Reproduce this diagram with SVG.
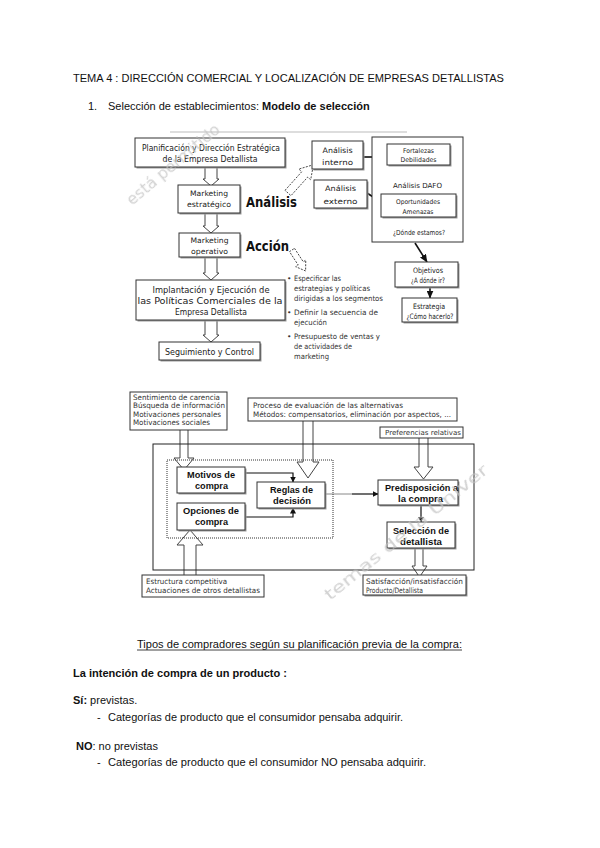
<svg xmlns="http://www.w3.org/2000/svg" width="600" height="848" viewBox="0 0 600 848">
<style>
.bx{fill:#fff;stroke:#333;stroke-width:1}
.sh{fill:#9a9a9a}
.ha{fill:#fff;stroke:#444;stroke-width:1}
.hd{fill:#fff;stroke:#444;stroke-width:0.9;stroke-dasharray:2,1.3}
.ln{stroke:#111;stroke-width:1.6;fill:none}
.lt{stroke:#111;stroke-width:1.2;fill:none}
.v{font-family:"DejaVu Sans",Verdana,sans-serif;fill:#222;text-anchor:middle}
.vs{font-family:"DejaVu Sans",Verdana,sans-serif;fill:#333}
.vb{font-family:"DejaVu Sans",Verdana,sans-serif;font-weight:bold;fill:#111}
.a{font-family:"Liberation Sans",Arial,sans-serif;fill:#111}
.ab{font-family:"Liberation Sans",Arial,sans-serif;font-weight:bold;fill:#111}
.ac{font-family:"Liberation Sans",Arial,sans-serif;font-weight:bold;fill:#111;text-anchor:middle}
.wm{font-family:"DejaVu Sans",Verdana,sans-serif;fill:#c4c4c4;font-size:16px}
</style>
<defs>
<marker id="ar" markerUnits="userSpaceOnUse" markerWidth="8" markerHeight="7" refX="7.5" refY="3.5" orient="auto"><path d="M0,0 L8,3.5 L0,7 Z" fill="#111"/></marker>
<marker id="as" markerUnits="userSpaceOnUse" markerWidth="6" markerHeight="6" refX="5.5" refY="3" orient="auto"><path d="M0,0 L6,3 L0,6 Z" fill="#111"/></marker>
</defs>

<g id="header">
<text class="a" x="73" y="82" font-size="11" textLength="431" lengthAdjust="spacingAndGlyphs">TEMA 4 : DIRECCIÓN COMERCIAL Y LOCALIZACIÓN DE EMPRESAS DETALLISTAS</text>
<text class="a" x="88" y="110" font-size="11">1.</text>
<text class="a" x="108" y="110" font-size="11">Selección de establecimientos: <tspan class="ab">Modelo de selección</tspan></text>
</g>

<line x1="170" y1="132" x2="407" y2="132" stroke="#bbb" stroke-width="1"/>

<g id="connectors">
<path class="ha" d="M205,167 V179 H203 L211,186 L219,179 H217 V167"/>
<path class="ha" d="M205,213 V226 H203 L211,233 L219,226 H217 V213"/>
<path class="ha" d="M205,257 V273 H203 L211,280 L219,273 H217 V257"/>
<path class="ha" d="M205,320 V335 H203 L211,342 L219,335 H217 V320"/>
<path class="hd" transform="translate(288,193) rotate(-48)" d="M0,-4 H25 V-8 L38,0 L25,8 V4 H0 Z"/>
<path class="hd" transform="translate(292,250) rotate(57)" d="M0,-3 H16 V-6 L25,0 L16,6 V3 H0 Z"/>
<line class="ln" x1="363" y1="157" x2="387" y2="157" marker-end="url(#ar)"/>
<line class="ln" x1="367" y1="193" x2="387" y2="206" marker-end="url(#ar)"/>
<line class="ln" x1="415" y1="243" x2="427" y2="262" marker-end="url(#ar)"/>
<line class="ln" x1="430" y1="287" x2="430" y2="298" marker-end="url(#ar)"/>

<path class="ha" d="M180,430 V458 H174 L184,470 L194,458 H188 V430"/>
<path class="ha" d="M303,421 V462 H297 L308,478 L319,462 H313 V421"/>
<path class="ha" d="M419,437 V467 H414 L423.5,479 L433,467 H428 V437"/>
<path class="ha" d="M184,575 V545 H177 L190,530 L203,545 H196 V575"/>
<path class="ha" d="M415,548 V566 H412 L419.5,577 L427,566 H423 V548"/>
<path class="lt" d="M245,473 H293 V482" marker-end="url(#as)"/>
<path class="lt" d="M245,517 H293 V508" marker-end="url(#as)"/>
<line x1="325" y1="494" x2="352" y2="494" stroke="#888" stroke-width="1"/>
<line class="lt" x1="352" y1="494" x2="378" y2="494" marker-end="url(#as)"/>
<line class="lt" x1="421" y1="505" x2="421" y2="522" marker-end="url(#as)"/>
</g>

<g id="n-planificacion">
<rect class="sh" x="136.5" y="139.5" width="150" height="29"/>
<rect class="bx" x="135" y="138" width="150" height="29"/>
<text class="v" x="211" y="151" font-size="8.5" textLength="138" lengthAdjust="spacingAndGlyphs">Planificación y Dirección Estratégica</text>
<text class="v" x="210" y="162" font-size="8.5" textLength="95" lengthAdjust="spacingAndGlyphs">de la Empresa Detallista</text>
</g>
<g id="n-mkt-estrategico">
<rect class="sh" x="179.5" y="186.5" width="62" height="28"/>
<rect class="bx" x="178" y="185" width="62" height="28"/>
<text class="v" x="209" y="196" font-size="7.5" textLength="38" lengthAdjust="spacingAndGlyphs">Marketing</text>
<text class="v" x="209" y="207" font-size="7.5" textLength="44" lengthAdjust="spacingAndGlyphs">estratégico</text>
</g>
<text id="t-analisis" class="vb" x="246" y="207" font-size="14" textLength="51" lengthAdjust="spacingAndGlyphs">Análisis</text>
<g id="n-mkt-operativo">
<rect class="sh" x="180.5" y="234.5" width="61" height="24"/>
<rect class="bx" x="179" y="233" width="61" height="24"/>
<text class="v" x="209.5" y="243" font-size="7.5" textLength="38" lengthAdjust="spacingAndGlyphs">Marketing</text>
<text class="v" x="209.5" y="254" font-size="7.5" textLength="37" lengthAdjust="spacingAndGlyphs">operativo</text>
</g>
<text id="t-accion" class="vb" x="246" y="251" font-size="14" textLength="43" lengthAdjust="spacingAndGlyphs">Acción</text>
<g id="n-implantacion">
<rect class="sh" x="137.5" y="281.5" width="149" height="40"/>
<rect class="bx" x="136" y="280" width="149" height="40"/>
<text class="v" x="211" y="293" font-size="9" textLength="117" lengthAdjust="spacingAndGlyphs">Implantación y Ejecución de</text>
<text class="v" x="210" y="304" font-size="9" textLength="145" lengthAdjust="spacingAndGlyphs">las Políticas Comerciales de la</text>
<text class="v" x="211" y="315" font-size="9" textLength="72" lengthAdjust="spacingAndGlyphs">Empresa Detallista</text>
</g>
<g id="n-seguimiento">
<rect class="sh" x="160.5" y="343.5" width="101" height="18"/>
<rect class="bx" x="159" y="342" width="101" height="18"/>
<text class="v" x="209.5" y="355" font-size="8.5" textLength="89" lengthAdjust="spacingAndGlyphs">Seguimiento y Control</text>
</g>
<g id="n-interno">
<rect class="sh" x="313.5" y="142.5" width="51" height="28"/>
<rect class="bx" x="312" y="141" width="51" height="28"/>
<text class="v" x="337.5" y="153" font-size="7.5" textLength="30" lengthAdjust="spacingAndGlyphs">Análisis</text>
<text class="v" x="337.5" y="165" font-size="7.5" textLength="31" lengthAdjust="spacingAndGlyphs">interno</text>
</g>
<g id="n-externo">
<rect class="sh" x="315.5" y="181.5" width="53" height="28"/>
<rect class="bx" x="314" y="180" width="53" height="28"/>
<text class="v" x="340.5" y="191" font-size="7.5" textLength="31" lengthAdjust="spacingAndGlyphs">Análisis</text>
<text class="v" x="340.5" y="204" font-size="7.5" textLength="34" lengthAdjust="spacingAndGlyphs">externo</text>
</g>
<g id="n-dafo">
<rect class="bx" x="372" y="137" width="91" height="105"/>
<rect class="sh" x="388.5" y="145.5" width="63" height="21"/>
<rect class="bx" x="387" y="144" width="63" height="21"/>
<text class="v" x="418.5" y="153" font-size="6.5" textLength="31" lengthAdjust="spacingAndGlyphs">Fortalezas</text>
<text class="v" x="418.5" y="162" font-size="6.5" textLength="36" lengthAdjust="spacingAndGlyphs">Debilidades</text>
<text class="v" x="417.5" y="188" font-size="7" textLength="49" lengthAdjust="spacingAndGlyphs">Análisis DAFO</text>
<rect class="sh" x="382.5" y="195.5" width="75" height="23"/>
<rect class="bx" x="381" y="194" width="75" height="23"/>
<text class="v" x="418" y="204" font-size="6.5" textLength="44" lengthAdjust="spacingAndGlyphs">Oportunidades</text>
<text class="v" x="418" y="214" font-size="6.5" textLength="31" lengthAdjust="spacingAndGlyphs">Amenazas</text>
<text class="v" x="419" y="235" font-size="7" textLength="52" lengthAdjust="spacingAndGlyphs">¿Dónde estamos?</text>
</g>
<g id="n-objetivos">
<rect class="sh" x="396.5" y="263.5" width="63" height="25"/>
<rect class="bx" x="395" y="262" width="63" height="25"/>
<text class="v" x="428" y="273" font-size="7.5" textLength="30" lengthAdjust="spacingAndGlyphs">Objetivos</text>
<text class="v" x="428" y="283" font-size="7.5" textLength="34" lengthAdjust="spacingAndGlyphs">¿A dónde ir?</text>
</g>
<g id="n-estrategia">
<rect class="sh" x="403.5" y="299.5" width="55" height="24"/>
<rect class="bx" x="402" y="298" width="55" height="24"/>
<text class="v" x="429" y="309" font-size="7.5" textLength="32" lengthAdjust="spacingAndGlyphs">Estrategia</text>
<text class="v" x="430" y="319" font-size="7.5" textLength="47" lengthAdjust="spacingAndGlyphs">¿Cómo hacerlo?</text>
</g>
<g id="n-bullets" font-size="7.5">
<text class="vs" x="287" y="281">•</text>
<text class="vs" x="294" y="281" textLength="47" lengthAdjust="spacingAndGlyphs">Especificar las</text>
<text class="vs" x="294" y="291" textLength="76" lengthAdjust="spacingAndGlyphs">estrategias y políticas</text>
<text class="vs" x="294" y="301" textLength="89" lengthAdjust="spacingAndGlyphs">dirigidas a los segmentos</text>
<text class="vs" x="287" y="315">•</text>
<text class="vs" x="294" y="315" textLength="84" lengthAdjust="spacingAndGlyphs">Definir la secuencia de</text>
<text class="vs" x="294" y="325" textLength="33" lengthAdjust="spacingAndGlyphs">ejecución</text>
<text class="vs" x="287" y="339">•</text>
<text class="vs" x="294" y="339" textLength="86" lengthAdjust="spacingAndGlyphs">Presupuesto de ventas y</text>
<text class="vs" x="294" y="349" textLength="58" lengthAdjust="spacingAndGlyphs">de actividades de</text>
<text class="vs" x="294" y="359" textLength="35" lengthAdjust="spacingAndGlyphs">marketing</text>
</g>

<rect id="n-outer" x="153" y="444" width="321" height="126" fill="none" stroke="#222" stroke-width="1"/>
<rect id="n-dotted" x="167" y="460" width="166" height="78" fill="none" stroke="#333" stroke-width="1" stroke-dasharray="1,1"/>

<g id="n-sentimiento" font-size="7.5">
<rect class="bx" x="130" y="392" width="97" height="38"/>
<text class="vs" x="133" y="400" textLength="87" lengthAdjust="spacingAndGlyphs">Sentimiento de carencia</text>
<text class="vs" x="133" y="408" textLength="92" lengthAdjust="spacingAndGlyphs">Búsqueda de información</text>
<text class="vs" x="133" y="416.5" textLength="88" lengthAdjust="spacingAndGlyphs">Motivaciones personales</text>
<text class="vs" x="133" y="425" textLength="77" lengthAdjust="spacingAndGlyphs">Motivaciones sociales</text>
</g>
<g id="n-proceso" font-size="7.5">
<rect class="bx" x="248" y="398" width="209" height="23"/>
<text class="vs" x="253" y="408" textLength="150" lengthAdjust="spacingAndGlyphs">Proceso de evaluación de las alternativas</text>
<text class="vs" x="253" y="417" textLength="198" lengthAdjust="spacingAndGlyphs">Métodos: compensatorios, eliminación por aspectos, ...</text>
</g>
<g id="n-preferencias">
<rect class="bx" x="380" y="427" width="83" height="11"/>
<text class="vs" x="385" y="435" font-size="7" textLength="76" lengthAdjust="spacingAndGlyphs">Preferencias relativas</text>
</g>
<g id="n-motivos">
<rect class="sh" x="178.5" y="468.5" width="68" height="26"/>
<rect class="bx" x="177" y="467" width="68" height="26"/>
<text class="ac" x="211" y="478" font-size="9.5" textLength="48" lengthAdjust="spacingAndGlyphs">Motivos de</text>
<text class="ac" x="211.5" y="489" font-size="9.5" textLength="33" lengthAdjust="spacingAndGlyphs">compra</text>
</g>
<g id="n-opciones">
<rect class="sh" x="178.5" y="504.5" width="68" height="27"/>
<rect class="bx" x="177" y="503" width="68" height="27"/>
<text class="ac" x="211" y="514" font-size="9.5" textLength="56" lengthAdjust="spacingAndGlyphs">Opciones de</text>
<text class="ac" x="211.5" y="525" font-size="9.5" textLength="33" lengthAdjust="spacingAndGlyphs">compra</text>
</g>
<g id="n-reglas">
<rect class="sh" x="258.5" y="483.5" width="68" height="26"/>
<rect class="bx" x="257" y="482" width="68" height="26"/>
<text class="ac" x="291.5" y="493" font-size="9.5" textLength="43" lengthAdjust="spacingAndGlyphs">Reglas de</text>
<text class="ac" x="292" y="504" font-size="9.5" textLength="38" lengthAdjust="spacingAndGlyphs">decisión</text>
</g>
<g id="n-predisposicion">
<rect class="sh" x="379.5" y="481.5" width="80" height="25"/>
<rect class="bx" x="378" y="480" width="80" height="25"/>
<text class="ac" x="421.5" y="491" font-size="9.5" textLength="73" lengthAdjust="spacingAndGlyphs">Predisposición a</text>
<text class="ac" x="420.5" y="502" font-size="9.5" textLength="45" lengthAdjust="spacingAndGlyphs">la compra</text>
</g>
<g id="n-seleccion">
<rect class="sh" x="388.5" y="523.5" width="68" height="26"/>
<rect class="bx" x="387" y="522" width="68" height="26" stroke-width="1.3"/>
<text class="ac" x="421" y="534" font-size="9.5" textLength="56" lengthAdjust="spacingAndGlyphs">Selección de</text>
<text class="ac" x="421" y="544.5" font-size="9.5" textLength="42" lengthAdjust="spacingAndGlyphs">detallista</text>
</g>
<g id="n-estructura" font-size="7.5">
<rect class="bx" x="142" y="575" width="122" height="22"/>
<text class="vs" x="146" y="583.5" textLength="81" lengthAdjust="spacingAndGlyphs">Estructura competitiva</text>
<text class="vs" x="146" y="592.5" textLength="114" lengthAdjust="spacingAndGlyphs">Actuaciones de otros detallistas</text>
</g>
<g id="n-satisfaccion" font-size="7.5">
<rect class="sh" x="364.5" y="576.5" width="103" height="20"/>
<rect class="bx" x="363" y="575" width="103" height="20"/>
<text class="vs" x="366" y="583.5" textLength="97" lengthAdjust="spacingAndGlyphs">Satisfacción/insatisfacción</text>
<text class="vs" x="366" y="592.5" textLength="57" lengthAdjust="spacingAndGlyphs">Producto/Detallista</text>
</g>

<g id="watermark" opacity="0.75">
<text class="wm" transform="translate(132,206) rotate(-40)">está permitido</text>
<text class="wm" transform="translate(330,601) rotate(-39)" textLength="205" lengthAdjust="spacingAndGlyphs">temas de la Univer</text>
</g>

<g id="body-text">
<text class="a" x="137" y="648" font-size="11" textLength="325" lengthAdjust="spacingAndGlyphs">Tipos de compradores según su planificación previa de la compra:</text>
<line x1="137" y1="650" x2="462" y2="650" stroke="#111" stroke-width="0.8"/>
<text class="ab" x="73" y="677" font-size="11.5" textLength="214" lengthAdjust="spacingAndGlyphs">La intención de compra de un producto :</text>
<text class="a" x="73" y="704" font-size="11"><tspan class="ab">Sí:</tspan> previstas.</text>
<text class="a" x="97" y="721" font-size="11">-</text>
<text class="a" x="108" y="721" font-size="11" textLength="295" lengthAdjust="spacingAndGlyphs">Categorías de producto que el consumidor pensaba adquirir.</text>
<text class="a" x="76" y="750" font-size="11"><tspan class="ab">NO</tspan>: no previstas</text>
<text class="a" x="97" y="766" font-size="11">-</text>
<text class="a" x="108" y="766" font-size="11" textLength="318" lengthAdjust="spacingAndGlyphs">Categorías de producto que el consumidor NO pensaba adquirir.</text>
</g>
</svg>
